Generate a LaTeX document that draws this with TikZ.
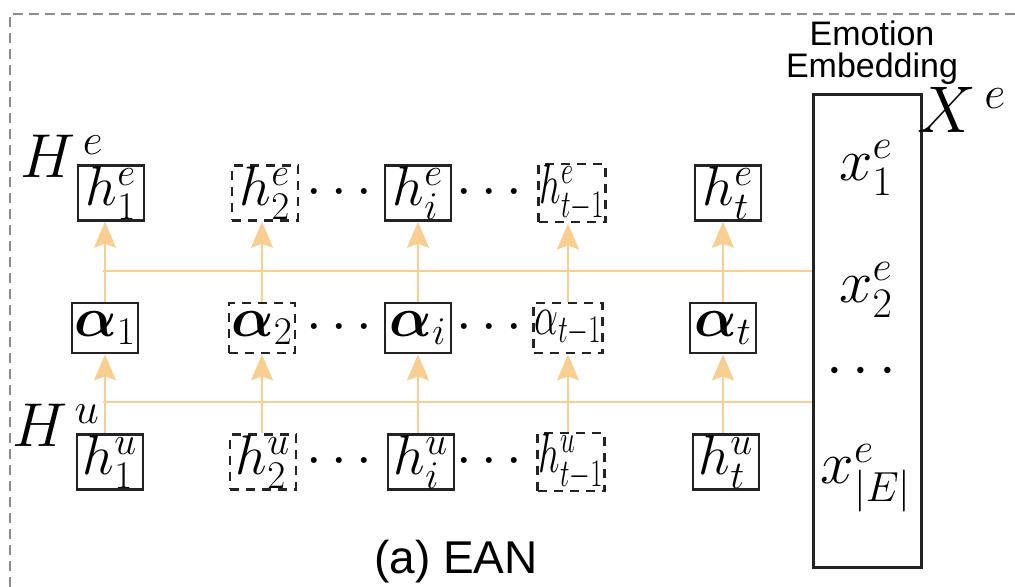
\RequirePackage{fix-cm}
\documentclass[tikz,border=0pt]{standalone}
\usepackage{amsmath}
\usepackage{graphicx}
\usepackage{fontspec}
\setsansfont{Liberation Sans}
\usetikzlibrary{arrows.meta}
\definecolor{flow}{RGB}{248,206,145}
\definecolor{ink}{RGB}{35,35,35}
\definecolor{frame}{RGB}{140,140,140}
\begin{document}
\begin{tikzpicture}[x=0.5pt,y=-0.5pt,
  mathfont/.style={font=\fontsize{28}{30}\selectfont},
  cell/.style={draw=ink,line width=1.4pt,minimum width=33pt,minimum height=25pt,inner sep=0.5pt,mathfont},
  ghost/.style={cell,dash pattern=on 4.5pt off 3.5pt},
  flowline/.style={draw=flow,line width=1.1pt},
  flowarrow/.style={flowline,-{Stealth[length=13pt,width=11pt,inset=2pt]}},
  dotsnode/.style={inner sep=0pt,mathfont},
  embtext/.style={font=\fontsize{30}{32}\selectfont}]
\useasboundingbox (0,0) rectangle (1015,587);

% outer dashed frame
\draw[frame,line width=0.8pt,dash pattern=on 5pt off 3pt] (10,587) -- (10,14) -- (1015,14);

% emotion embedding column
\node[draw=ink,line width=1.5pt,minimum width=54pt,minimum height=236pt,inner sep=0pt] (emb) at (867,331) {};
\node[align=center,font=\sffamily\fontsize{17}{16}\selectfont] (embtitle) at (872,53) {Emotion\\Embedding};
\node[font=\fontsize{33}{36}\selectfont] (Xe) at (962,110) {$X^{\,e}$};
\node[embtext] (x1) at (866,168) {$x_1^e$};
\node[embtext] (x2) at (866,290) {$x_2^e$};
\node[embtext] (xd) at (866,372) {$\cdots$};
\node[embtext] (xE) at (866,478) {$x_{|E|}^e$};

% row labels
\node[font=\fontsize{31}{34}\selectfont] (He) at (62,156) {$H^{\,e}$};
\node[font=\fontsize{31}{34}\selectfont] (Hu) at (56,425) {$H^{\,u}$};

% emotion-aware outputs
\node[cell]  (he1) at (111,193) {$h_1^e$};
\node[ghost] (he2) at (265,193) {$h_2^e$};
\node[cell]  (he3) at (418,193) {$h_i^e$};
\node[ghost] (he4) at (572,193) {\scalebox{0.68}[1]{$h_{t-1}^e$}};
\node[cell]  (he5) at (728,193) {$h_t^e$};

% attention weights
\node[cell]  (a1) at (105,328) {$\boldsymbol{\alpha}_1$};
\node[ghost] (a2) at (262,328) {$\boldsymbol{\alpha}_2$};
\node[cell]  (a3) at (418,328) {$\boldsymbol{\alpha}_i$};
\node[ghost] (a4) at (568,328) {\scalebox{0.68}[1]{$\alpha_{t-1}$}};
\node[cell]  (a5) at (723,328) {$\boldsymbol{\alpha}_t$};

% utterance states
\node[cell]  (hu1) at (110,462) {$h_1^u$};
\node[ghost] (hu2) at (263,462) {$h_2^u$};
\node[cell]  (hu3) at (421,462) {$h_i^u$};
\node[ghost] (hu4) at (571,462) {\scalebox{0.68}[1]{$h_{t-1}^u$}};
\node[cell]  (hu5) at (726,462) {$h_t^u$};

% ellipses between columns
\foreach \r/\y in {e/193,a/328,u/462}{
  \node[dotsnode] (dl\r) at (344,\y) {$\cdots$};
  \node[dotsnode] (dr\r) at (494,\y) {$\cdots$};
}

% horizontal feeds from the embedding
\coordinate (topfeed) at (103,271);
\coordinate (lowfeed) at (103,402);
\draw[flowline] (topfeed) -- (topfeed -| emb.west);
\draw[flowline] (lowfeed) -- (lowfeed -| emb.west);

% vertical arrows
\foreach \c in {1,...,5}{
  \draw[flowarrow] (a\c.north) -- (a\c.north |- he\c.south);
  \draw[flowarrow] (hu\c.north -| a\c.south) -- (a\c.south);
}

\node[font=\sffamily\fontsize{23}{26}\selectfont] (cap) at (456,562) {(a) EAN};
\end{tikzpicture}
\end{document}
